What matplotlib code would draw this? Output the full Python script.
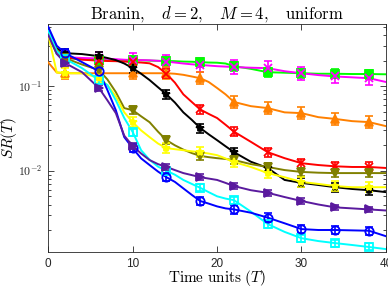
import numpy as np
import matplotlib
matplotlib.use('Agg')
import matplotlib.pyplot as plt
from matplotlib.ticker import FixedLocator, FixedFormatter, LogLocator, NullFormatter

plt.rcParams['font.family'] = ['Liberation Sans', 'DejaVu Sans']
plt.rcParams['mathtext.fontset'] = 'cm'

OUTPUT_PLOT = 'out.png'

# time grid shared by all curves
T = [0, 1, 2, 4, 6, 7, 8, 9, 10, 11, 12, 13, 14, 15, 16, 17, 18, 19, 20, 21,
     22, 24, 26, 28, 30, 32, 34, 36, 38, 40]
# markers / error bars every 4 time units
T_MARK = [2, 6, 10, 14, 18, 22, 26, 30, 34, 38]

green = [0.40, 0.24, 0.214, 0.21, 0.205, 0.205, 0.203, 0.203, 0.203, 0.202,
         0.200, 0.199, 0.198, 0.197, 0.195, 0.194, 0.192, 0.190, 0.189, 0.185,
         0.172, 0.160, 0.146, 0.144, 0.142, 0.140, 0.140, 0.139, 0.139, 0.138]
magenta = [0.42, 0.25, 0.22, 0.215, 0.212, 0.210, 0.208, 0.205, 0.203, 0.203,
           0.202, 0.199, 0.195, 0.190, 0.185, 0.181, 0.178, 0.175, 0.172, 0.170,
           0.168, 0.165, 0.163, 0.150, 0.142, 0.135, 0.130, 0.127, 0.124, 0.112]
orange = [0.19, 0.145, 0.142, 0.142, 0.142, 0.142, 0.142, 0.142, 0.142, 0.142,
          0.142, 0.142, 0.142, 0.140, 0.136, 0.130, 0.124, 0.112, 0.095, 0.080,
          0.065, 0.058, 0.055, 0.049, 0.048, 0.043, 0.041, 0.0386, 0.0376, 0.0337]
red = [0.42, 0.26, 0.22, 0.205, 0.200, 0.198, 0.197, 0.195, 0.192, 0.190,
       0.186, 0.168, 0.140, 0.110, 0.080, 0.065, 0.053, 0.047, 0.042, 0.035,
       0.029, 0.022, 0.0166, 0.0141, 0.0123, 0.0117, 0.0113, 0.0111, 0.0111, 0.0108]
black = [0.45, 0.28, 0.245, 0.239, 0.226, 0.215, 0.203, 0.185, 0.163, 0.140,
         0.118, 0.097, 0.080, 0.064, 0.049, 0.040, 0.032, 0.027, 0.023, 0.0195,
         0.0166, 0.0128, 0.0108, 0.0078, 0.0072, 0.0068, 0.0064, 0.0061, 0.0059, 0.0056]
olive = [0.45, 0.27, 0.214, 0.180, 0.155, 0.120, 0.085, 0.055, 0.052, 0.044,
         0.0375, 0.029, 0.0230, 0.0200, 0.0178, 0.0162, 0.0150, 0.0145, 0.0141, 0.0138,
         0.0134, 0.0120, 0.0111, 0.0102, 0.0097, 0.0095, 0.0094, 0.0094, 0.0094, 0.0094]
yellow = [0.40, 0.145, 0.142, 0.142, 0.125, 0.103, 0.076, 0.049, 0.0375, 0.030,
          0.025, 0.021, 0.0185, 0.0180, 0.0175, 0.0170, 0.0166, 0.0160, 0.0153, 0.0140,
          0.0127, 0.0111, 0.0094, 0.0084, 0.0074, 0.0070, 0.0066, 0.0064, 0.0064, 0.0064]
cyan = [0.45, 0.26, 0.21, 0.163, 0.118, 0.103, 0.068, 0.042, 0.0287, 0.0175,
        0.0135, 0.0112, 0.0100, 0.0090, 0.0078, 0.0070, 0.0063, 0.0056, 0.0050, 0.0047,
        0.0045, 0.0033, 0.00235, 0.0019, 0.0016, 0.00148, 0.0014, 0.00133, 0.00126, 0.00119]
blue = [0.50, 0.30, 0.245, 0.192, 0.150, 0.090, 0.052, 0.025, 0.0185, 0.0140,
        0.0117, 0.0098, 0.0084, 0.0074, 0.0062, 0.0052, 0.0044, 0.0041, 0.0038, 0.0036,
        0.0035, 0.0032, 0.0028, 0.0024, 0.00205, 0.0020, 0.0020, 0.00198, 0.00196, 0.00169]
purple = [0.40, 0.24, 0.187, 0.146, 0.095, 0.068, 0.048, 0.026, 0.0196, 0.0160,
          0.0134, 0.0120, 0.0111, 0.0102, 0.0094, 0.0089, 0.0084, 0.0081, 0.0078, 0.0072,
          0.0066, 0.0059, 0.0055, 0.0049, 0.0044, 0.0040, 0.0037, 0.0036, 0.0035, 0.0034]

series = [green, magenta, orange, red, black, olive, yellow, cyan, blue, purple]
colors = ['#00ff00', '#ff00ff', '#ff8000', '#ff0000', '#000000', '#808000',
          '#ffff00', '#00ffff', '#0000ff', '#5a1a9e']
markers = ['s', 'x', '^', 'x', '*', 'v', '*', 's', 'o', '>']
hollow = [False, False, False, False, False, False, False, True, True, False]
# rough relative size of the error bars
err_frac = [0.13, 0.20, 0.18, 0.13, 0.13, 0.12, 0.15, 0.10, 0.12, 0.08]


def main():
    fig = plt.figure(figsize=(3.88, 2.87), dpi=100)
    ax = fig.add_axes([0.1245, 0.122, 0.87, 0.794])
    axc = '#262626'

    t = np.array(T)
    mark_idx = [T.index(m) for m in T_MARK]
    for y, c, mk, hol, ef in zip(series, colors, markers, hollow, err_frac):
        y = np.array(y)
        ax.plot(t, y, color=c, lw=1.4, zorder=3)
        ym = y[mark_idx]
        yerr = [ym - ym / (1 + ef), ym * ef]
        ax.errorbar(T_MARK, ym, yerr=yerr, fmt='none', ecolor=c, elinewidth=1.2,
                    capsize=3, capthick=1.2, zorder=4)
        ax.plot(T_MARK, ym, ls='none', marker=mk, ms=6, color=c, mew=1.3,
                mfc='none' if hol else c, zorder=5)

    ax.set_yscale('log')
    ax.set_xlim(0, 40)
    ax.set_ylim(1.1e-3, 0.54)

    ax.xaxis.set_major_locator(FixedLocator([0, 10, 20, 30, 40]))
    ax.yaxis.set_major_locator(FixedLocator([1e-2, 1e-1]))
    ax.yaxis.set_major_formatter(FixedFormatter([r'$\mathsf{10^{-2}}$', r'$\mathsf{10^{-1}}$']))
    ax.yaxis.set_minor_locator(LogLocator(base=10, subs=np.arange(2, 10)))
    ax.yaxis.set_minor_formatter(NullFormatter())

    ax.tick_params(which='both', direction='in', top=True, right=True, colors=axc,
                   labelsize=8.5, width=0.6)
    ax.tick_params(which='major', length=4, pad=4)
    ax.tick_params(which='minor', length=2)
    for s in ax.spines.values():
        s.set_color(axc)
        s.set_linewidth(0.6)

    ax.set_title(r'$\mathrm{Branin},\quad d=2,\quad M=4,\quad \mathrm{uniform}$',
                 fontsize=12, pad=4)
    ax.set_xlabel(r'$\mathrm{Time\ units}\ (T)$', fontsize=11)
    ax.xaxis.set_label_coords(0.5, -0.072)
    ax.set_ylabel(r'$SR(T)$', fontsize=11)
    ax.yaxis.set_label_coords(-0.088, 0.5)

    fig.savefig(OUTPUT_PLOT, dpi=100)


if __name__ == "__main__":
    main()
